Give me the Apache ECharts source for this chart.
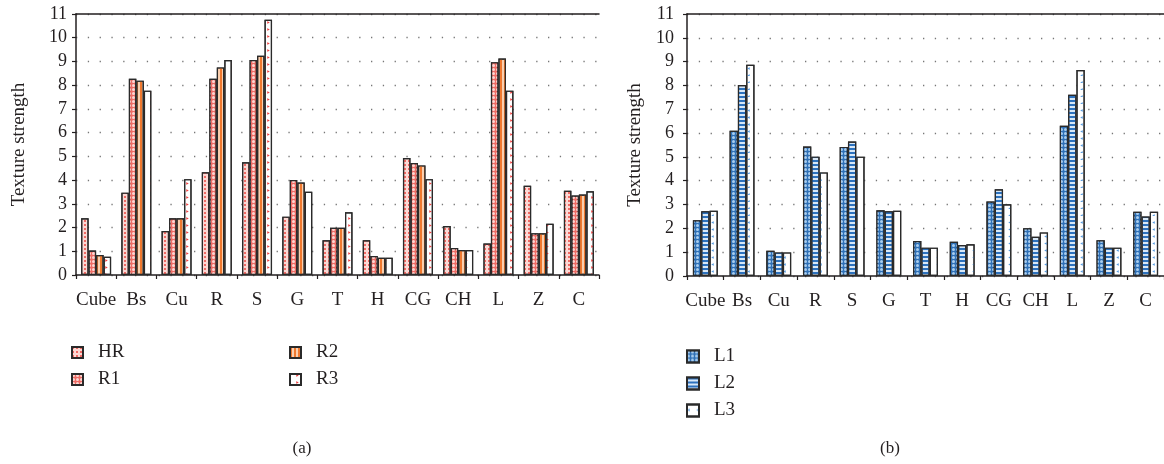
<!DOCTYPE html>
<html>
<head>
<meta charset="utf-8">
<script src="https://cdn.jsdelivr.net/npm/echarts@6/dist/echarts.min.js"></script>
<style>
  html, body { margin: 0; padding: 0; background: #fff; }
  #main { width: 1164px; height: 464px; }
</style>
</head>
<body>
<div id="main"></div>
<script>
  // categories shared by both panels
  var categories = ['Cube', 'Bs', 'Cu', 'R', 'S', 'G', 'T', 'H', 'CG', 'CH', 'L', 'Z', 'C']
  var yTicks = [0, 11, 1]  // min, max, interval

  // panel (a)
  var hr = [2.39, 3.47, 1.85, 4.33, 4.75, 2.46, 1.46, 1.46, 4.93, 2.06, 1.33, 3.76, 3.55]
  var r1 = [1.03, 8.27, 2.39, 8.27, 9.06, 4.00, 1.99, 0.80, 4.72, 1.14, 8.97, 1.76, 3.35]
  var r2 = [0.84, 8.19, 2.39, 8.75, 9.24, 3.90, 1.99, 0.73, 4.62, 1.05, 9.12, 1.76, 3.39]
  var r3 = [0.77, 7.77, 4.04, 9.06, 10.76, 3.51, 2.64, 0.73, 4.04, 1.05, 7.77, 2.16, 3.53]

  // panel (b)
  var l1 = [2.34, 6.10, 1.06, 5.44, 5.42, 2.76, 1.47, 1.44, 3.13, 2.00, 6.31, 1.50, 2.70]
  var l2 = [2.72, 8.02, 0.99, 5.01, 5.65, 2.72, 1.19, 1.30, 3.64, 1.65, 7.61, 1.19, 2.50]
  var l3 = [2.74, 8.87, 0.99, 4.35, 5.01, 2.74, 1.19, 1.33, 3.01, 1.83, 8.65, 1.19, 2.70]

  var serif = '"Liberation Serif", "DejaVu Serif", serif'
  var ink = '#231f20'

  var chart = echarts.init(document.getElementById('main'))

  function valueAxis(grid, gap, labelMargin) {
    return {
      type: 'value',
      gridIndex: grid,
      min: yTicks[0],
      max: yTicks[1],
      interval: yTicks[2],
      name: 'Texture strength',
      nameLocation: 'middle',
      nameGap: gap,
      nameTextStyle: { fontFamily: serif, fontSize: 19, color: ink },
      axisLine: { show: true, lineStyle: { color: ink, width: 1.5 } },
      axisTick: { show: true, length: 4, lineStyle: { color: ink, width: 1.2 } },
      axisLabel: { fontFamily: serif, fontSize: 18, color: ink, margin: labelMargin },
      splitLine: { show: true, lineStyle: { color: '#777', width: 1.3, type: [1.3, 10.5] } }
    }
  }
  function catAxis(grid, pos) {
    return {
      type: 'category',
      gridIndex: grid,
      position: pos,
      data: categories,
      axisLine: { show: true, lineStyle: { color: ink, width: 1.5 } },
      axisTick: { show: pos === 'bottom', length: 4, lineStyle: { color: ink, width: 1.2 } },
      axisLabel: { show: pos === 'bottom', fontFamily: serif, fontSize: 19, color: ink, margin: 16, interval: 0 },
      splitLine: { show: false }
    }
  }

  function bar(name, data, xi, yi, width, color, decal) {
    return {
      name: name,
      type: 'bar',
      xAxisIndex: xi,
      yAxisIndex: yi,
      barWidth: width,
      barGap: '0%',
      data: data,
      itemStyle: {
        color: color,
        borderColor: '#2a2a2a',
        borderWidth: 1.2,
        decal: decal
      }
    }
  }

  var legendText = { fontFamily: serif, fontSize: 19, color: ink, lineHeight: 19, padding: [0, 0, 0, 10] }
  var captionText = { fontFamily: serif, fontSize: 17, fontWeight: 'normal', color: ink }

  chart.setOption({
    animation: false,
    title: [
      { text: '(a)', left: 302, top: 440, padding: 0, textAlign: 'center', textStyle: captionText },
      { text: '(b)', left: 890, top: 440, padding: 0, textAlign: 'center', textStyle: captionText }
    ],
    legend: [
      { data: ['HR', 'R1'], orient: 'vertical', left: 71, top: 343, padding: 0, icon: 'rect',
        itemWidth: 11, itemHeight: 11, itemGap: 8, textStyle: legendText },
      { data: ['R2', 'R3'], orient: 'vertical', left: 289, top: 343, padding: 0, icon: 'rect',
        itemWidth: 11, itemHeight: 11, itemGap: 8, textStyle: legendText },
      { data: ['L1', 'L2', 'L3'], orient: 'vertical', left: 686, top: 347, padding: 0, icon: 'rect',
        itemWidth: 12, itemHeight: 12, itemGap: 8, textStyle: legendText }
    ],
    grid: [
      { left: 76, top: 14, width: 523, height: 261 },
      { left: 687, top: 14, width: 480, height: 262 }
    ],
    xAxis: [
      catAxis(0, 'bottom'),
      catAxis(0, 'top'),
      catAxis(1, 'bottom'),
      catAxis(1, 'top')
    ],
    yAxis: [
      valueAxis(0, 47, 9),
      valueAxis(1, 42, 13)
    ],
    series: [
      bar('HR', hr, 0, 0, 7.5, '#fcd8d4',
        { symbol: 'rect', symbolSize: 0.9, color: '#ef5f59', dashArrayX: [2, 2], dashArrayY: [2, 2] }),
      bar('R1', r1, 0, 0, 7.5, '#ee6c65',
        { symbol: 'circle', symbolSize: 1, color: '#fcd6d2', dashArrayX: [3, 1], dashArrayY: [3, 1] }),
      bar('R2', r2, 0, 0, 7.5, '#fbcfae',
        { symbol: 'rect', symbolSize: 1, color: '#f0792f', dashArrayX: [2, 2], dashArrayY: [10, 0] }),
      bar('R3', r3, 0, 0, 7.5, '#ffffff',
        { symbol: 'triangle', symbolSize: 0.9, color: '#ee4040', rotation: Math.PI / 2,
          dashArrayX: [3, 4], dashArrayY: [3, 6] }),
      bar('L1', l1, 2, 1, 8.3, '#2f70b6',
        { symbol: 'circle', symbolSize: 1, color: '#a9cdee', dashArrayX: [3, 1], dashArrayY: [3, 1] }),
      bar('L2', l2, 2, 1, 8.3, '#d8e8f7',
        { symbol: 'rect', symbolSize: 1, color: '#2c71bd', dashArrayX: [10, 0], dashArrayY: [2, 2] }),
      bar('L3', l3, 2, 1, 8.3, '#ffffff',
        { symbol: 'triangle', symbolSize: 0.9, color: '#5a9de0', rotation: -Math.PI / 2,
          dashArrayX: [3, 4], dashArrayY: [3, 6] })
    ]
  })
</script>
</body>
</html>
